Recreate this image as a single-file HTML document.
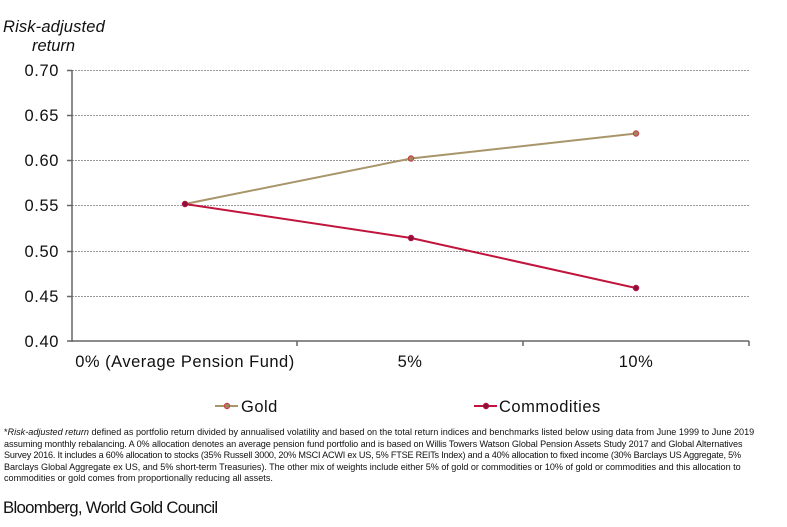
<!DOCTYPE html>
<html><head><meta charset="utf-8"><style>
html,body{margin:0;padding:0;background:#fff;}
body{width:787px;height:527px;overflow:hidden;position:relative;font-family:"Liberation Sans",Arial,sans-serif;}
.fn{position:absolute;left:4px;top:427px;font-family:"Liberation Sans",sans-serif;font-size:9.1px;line-height:11.6px;color:#111;white-space:nowrap;letter-spacing:0px;}
.fn span{display:block;}
.src{position:absolute;left:3px;top:498px;font-size:16.8px;letter-spacing:-0.7px;color:#111;}
</style></head><body>
<svg width="787" height="527" style="position:absolute;left:0;top:0" xmlns="http://www.w3.org/2000/svg">
<g font-family="Liberation Sans, Arial, sans-serif" font-style="italic" font-size="16.5" fill="#111">
<text x="3" y="32" letter-spacing="0.15">Risk-adjusted</text>
<text x="32" y="51">return</text>
</g>
<g stroke="#999" stroke-width="1" stroke-dasharray="2,1">
<line x1="72" y1="70.5" x2="749" y2="70.5"/>
<line x1="72" y1="115.5" x2="749" y2="115.5"/>
<line x1="72" y1="160.5" x2="749" y2="160.5"/>
<line x1="72" y1="205.5" x2="749" y2="205.5"/>
<line x1="72" y1="251.5" x2="749" y2="251.5"/>
<line x1="72" y1="296.5" x2="749" y2="296.5"/>
</g>
<g stroke="#666" stroke-width="1.5" fill="none">
<line x1="72" y1="70" x2="72" y2="342"/>
<line x1="67" y1="341" x2="749" y2="341"/>
<line x1="67" y1="70.5" x2="72" y2="70.5"/>
<line x1="67" y1="115.5" x2="72" y2="115.5"/>
<line x1="67" y1="160.5" x2="72" y2="160.5"/>
<line x1="67" y1="205.5" x2="72" y2="205.5"/>
<line x1="67" y1="251.5" x2="72" y2="251.5"/>
<line x1="67" y1="296.5" x2="72" y2="296.5"/>
<line x1="297" y1="341" x2="297" y2="346"/>
<line x1="523" y1="341" x2="523" y2="346"/>
<line x1="749" y1="341" x2="749" y2="346"/>
</g>
<g font-size="16.5" fill="#111" text-anchor="end" letter-spacing="0.6">
<text x="59" y="76">0.70</text>
<text x="59" y="121">0.65</text>
<text x="59" y="166">0.60</text>
<text x="59" y="211">0.55</text>
<text x="59" y="257">0.50</text>
<text x="59" y="302">0.45</text>
<text x="59" y="347">0.40</text>
</g>
<g font-size="16.5" fill="#111" text-anchor="middle" letter-spacing="0.5">
<text x="185" y="367">0% (Average Pension Fund)</text>
<text x="410" y="367">5%</text>
<text x="636" y="367">10%</text>
</g>
<polyline points="185,204 411,158.5 636,133.5" fill="none" stroke="#a8956a" stroke-width="2"/>
<polyline points="185,204 411,238 636,288" fill="none" stroke="#c0143c" stroke-width="2"/>
<g fill="#a08a5c" stroke="#c8424a" stroke-width="1.2">
<circle cx="411" cy="158.5" r="2.6"/>
<circle cx="636" cy="133.5" r="2.6"/>
</g>
<g fill="#8a1040" stroke="#b0103a" stroke-width="1.2">
<circle cx="185" cy="204" r="2.6"/>
<circle cx="411" cy="238" r="2.6"/>
<circle cx="636" cy="288" r="2.6"/>
</g>
<line x1="215" y1="406" x2="238" y2="406" stroke="#a8956a" stroke-width="2"/>
<circle cx="227" cy="406" r="2.6" fill="#a08a5c" stroke="#c8424a" stroke-width="1.2"/>
<text x="241" y="412" font-size="16.5" fill="#111" letter-spacing="0.5">Gold</text>
<line x1="474" y1="406" x2="497" y2="406" stroke="#c0143c" stroke-width="2"/>
<circle cx="486" cy="406" r="2.6" fill="#8a1040" stroke="#b0103a" stroke-width="1.2"/>
<text x="499" y="412" font-size="16.5" fill="#111" letter-spacing="0.5">Commodities</text>
</svg>
<div class="fn"><span>*<i>Risk-adjusted return</i> defined as portfolio return divided by annualised volatility and based on the total return indices and benchmarks listed below using data from June 1999 to June 2019</span><span style="letter-spacing:-0.09px">assuming monthly rebalancing. A 0% allocation denotes an average pension fund portfolio and is based on Willis Towers Watson Global Pension Assets Study 2017 and Global Alternatives</span><span style="letter-spacing:-0.2px">Survey 2016. It includes a 60% allocation to stocks (35% Russell 3000, 20% MSCI ACWI ex US, 5% FTSE REITs Index) and a 40% allocation to fixed income (30% Barclays US Aggregate, 5%</span><span style="letter-spacing:-0.04px">Barclays Global Aggregate ex US, and 5% short-term Treasuries). The other mix of weights include either 5% of gold or commodities or 10% of gold or commodities and this allocation to</span><span>commodities or gold comes from proportionally reducing all assets.</span></div>
<div class="src">Bloomberg, World Gold Council</div>
</body></html>
